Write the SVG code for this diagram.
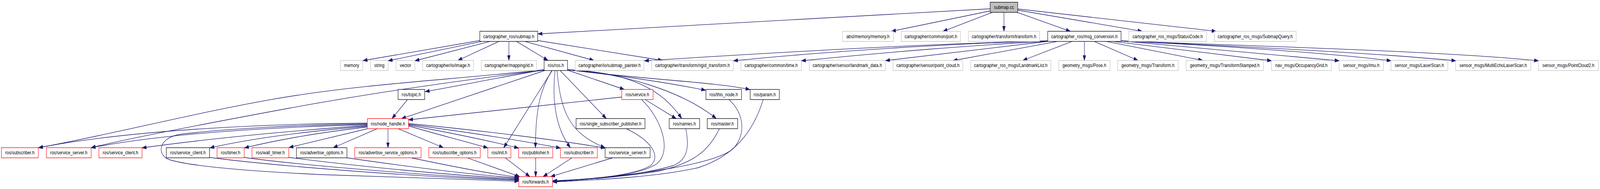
<svg xmlns="http://www.w3.org/2000/svg" width="4993" height="485" viewBox="0 0 4993 485" preserveAspectRatio="none">
<style>
:root{width:100vw;height:100vh}
rect{fill:#fff;stroke-width:1.3}
.g{stroke:#bfbfbf}
.k{stroke:#000}
.r{stroke:#ff0000}
.s{fill:#bfbfbf;stroke:#000}
text{font-family:"Liberation Sans",Arial,Helvetica,sans-serif;font-size:13px;text-anchor:middle;fill:#000}
#edges path{fill:none;stroke:#191970;stroke-width:1.3;marker-end:url(#a)}
</style>
<defs>
<marker id="a" markerUnits="userSpaceOnUse" markerWidth="14" markerHeight="10" refX="13.5" refY="5" orient="auto" viewBox="0 0 14 10">
<path d="M0,0.3 L14,5 L0,9.7 z" fill="#191970" stroke="#191970" stroke-width="0.8"/>
</marker>
</defs>
<rect x="0" y="0" width="4993" height="485" style="fill:#fff;stroke:none"/>
<g id="edges">
<path d="M3090,22.5 L1679,87"/>
<path d="M3090,28 L2782,80.3"/>
<path d="M3097,31.7 L2943,80.3"/>
<path d="M3133,31.7 L3133,80.3"/>
<path d="M3174,31.7 L3340,80.3"/>
<path d="M3176,26 L3564,80.3"/>
<path d="M3176,23 L3795,80.3"/>
<path d="M1498,104 L1133,155.5"/>
<path d="M1503,106.3 L1211.5,156"/>
<path d="M1529,106.3 L1295,156"/>
<path d="M1557,106.3 L1429,155"/>
<path d="M1588,106.3 L1588,155"/>
<path d="M1612,106.3 L1710,155"/>
<path d="M1638,106.3 L1853,155"/>
<path d="M1678,104 L2067,155"/>
<path d="M3270,105 C3000,110 2600,125 2011,156"/>
<path d="M3270,105 C3000,111 2600,130 2289,156"/>
<path d="M3271,106 C3050,115 2750,135 2501,156"/>
<path d="M3272,106 L2763.5,155.5"/>
<path d="M3300,106.3 L2974,155.5"/>
<path d="M3345,106.3 L3192,155"/>
<path d="M3384,106.3 L3384,155"/>
<path d="M3415,106.3 L3551,155"/>
<path d="M3453,106.3 L3753,155"/>
<path d="M3475,106.3 L3968,156"/>
<path d="M3498,105 L4179,156"/>
<path d="M3498,105 C3780,116 4150,136 4341,156"/>
<path d="M3498,105 C3850,118 4300,136 4543,156"/>
<path d="M3498,105 C3900,118 4500,131 4801,156"/>
<path d="M1698,179 C1550,200 1420,222 1327,235"/>
<path d="M1700,181 L1253,304.3"/>
<path d="M1698,179 C1400,205 1150,215 900,248 C650,281 350,345 120.5,379"/>
<path d="M1698,180 C1450,205 1150,240 900,278 C650,316 400,355 284.5,379"/>
<path d="M1723,181 L1572,379"/>
<path d="M1722,181 C1690,225 1671,270 1671,379"/>
<path d="M1732,181 C1722,260 1735,330 1780,379"/>
<path d="M1738,181 C1750,280 1770,340 1888,379"/>
<path d="M1748,181 L1892,304.3"/>
<path d="M1771,180 L1948,229.5"/>
<path d="M1771,179 C1990,185 2080,245 2127,304"/>
<path d="M1771,179 C1950,188 2130,235 2235,304"/>
<path d="M1771,179 C1950,195 2100,215 2202,231.5"/>
<path d="M1771,179 C2000,203 2250,212 2340,230"/>
<path d="M1146,316 C800,318 400,335 120.5,379"/>
<path d="M1146,320 C900,325 550,338 284.5,379"/>
<path d="M1146,322 C1000,330 700,350 443.5,379.5"/>
<path d="M1146,318 C950,320 700,330 560,345 C490,355 490,400 530,410 C600,428 800,440 1000,448 C1300,458 1500,462 1619,465"/>
<path d="M1146,324 C1000,334 800,352 655,379.5"/>
<path d="M1146,326 C1050,335 900,352 763,379.5"/>
<path d="M1148,330 L902,378.5"/>
<path d="M1177,330.3 L1040,379"/>
<path d="M1210.7,330.3 L1210.7,379"/>
<path d="M1243,330.3 L1383.5,379"/>
<path d="M1274.7,323 C1350,342 1450,362 1522,379.5"/>
<path d="M1274.7,321 C1400,340 1530,362 1618.3,380"/>
<path d="M1274.7,319 C1450,338 1620,360 1749,380"/>
<path d="M1274.7,317 C1500,335 1750,360 1888.3,380"/>
<path d="M1271.7,255.5 L1223.3,304.3"/>
<path d="M1940.3,249 L1275,307.5"/>
<path d="M2013.3,255.5 L2110,304.3"/>
<path d="M2002,255.5 C2060,300 2100,385 2050,420 C2000,450 1850,460 1725,465"/>
<path d="M1955,330.3 C2030,360 2065,400 2030,425 C1980,450 1850,460 1725,464"/>
<path d="M2140,330.3 C2150,370 2150,410 2100,425 C2000,450 1850,460 1725,466"/>
<path d="M2245,330.3 C2210,390 2160,420 2050,440 C1900,458 1800,462 1725,466"/>
<path d="M2275,255.5 C2320,290 2330,340 2290,380 C2240,420 2000,450 1725,466"/>
<path d="M2381.7,255.5 C2350,340 2290,400 2180,430 C2050,455 1850,462 1725,467"/>
<path d="M654,404 C850,425 1300,455 1619,462"/>
<path d="M762,404 C900,420 1300,450 1619,461"/>
<path d="M901.3,404 C1100,425 1400,450 1619,459"/>
<path d="M1082.7,405 C1250,425 1450,447 1619,457"/>
<path d="M1283,405 C1400,425 1520,445 1619,455"/>
<path d="M1458,405 L1622,453.3"/>
<path d="M1576.7,405 L1653.3,453.3"/>
<path d="M1671.7,405 L1671.7,453.3"/>
<path d="M1785,405 L1695,453.3"/>
<path d="M1911.7,405 L1718.3,453.3"/>
</g>
<g id="n_submap_cc"><rect class="s" x="3090" y="5.7" width="86" height="26"/><text x="3133" y="23">submap.cc</text></g>
<g id="n_cr_submap"><rect class="k" x="1497.3" y="80.3" width="180.7" height="26"/><text x="1587.65" y="97.6">cartographer_ros/submap.h</text></g>
<g id="n_absl"><rect class="g" x="2629" y="80.3" width="159" height="26"/><text x="2708.5" y="97.6">absl/memory/memory.h</text></g>
<g id="n_port"><rect class="g" x="2812.5" y="80.3" width="184.8" height="26"/><text x="2904.9" y="97.6">cartographer/common/port.h</text></g>
<g id="n_transform"><rect class="g" x="3022" y="80.3" width="222.3" height="26"/><text x="3133.15" y="97.6">cartographer/transform/transform.h</text></g>
<g id="n_msgconv"><rect class="k" x="3269.5" y="80.3" width="228.9" height="26"/><text x="3383.95" y="97.6">cartographer_ros/msg_conversion.h</text></g>
<g id="n_status"><rect class="g" x="3522.5" y="80.3" width="242.7" height="26"/><text x="3643.85" y="97.6">cartographer_ros_msgs/StatusCode.h</text></g>
<g id="n_query"><rect class="g" x="3789.3" y="80.3" width="255.5" height="26"/><text x="3917.05" y="97.6">cartographer_ros_msgs/SubmapQuery.h</text></g>
<g id="n_memory"><rect class="g" x="1062.3" y="155" width="69.7" height="26"/><text x="1097.15" y="172.3">memory</text></g>
<g id="n_string"><rect class="g" x="1156.3" y="155" width="55" height="26"/><text x="1183.8" y="172.3">string</text></g>
<g id="n_vector"><rect class="g" x="1236" y="155" width="58.7" height="26"/><text x="1265.35" y="172.3">vector</text></g>
<g id="n_image"><rect class="g" x="1319" y="155" width="158.7" height="26"/><text x="1398.35" y="172.3">cartographer/io/image.h</text></g>
<g id="n_id"><rect class="g" x="1502" y="155" width="172" height="26"/><text x="1588" y="172.3">cartographer/mapping/id.h</text></g>
<g id="n_ros"><rect class="k" x="1698" y="155" width="73" height="26"/><text x="1734.5" y="172.3">ros/ros.h</text></g>
<g id="n_painter"><rect class="g" x="1795" y="155" width="214.3" height="26"/><text x="1902.15" y="172.3">cartographer/io/submap_painter.h</text></g>
<g id="n_rigid"><rect class="g" x="2033.7" y="155" width="254.6" height="26"/><text x="2161" y="172.3">cartographer/transform/rigid_transform.h</text></g>
<g id="n_time"><rect class="g" x="2312.3" y="155" width="188.4" height="26"/><text x="2406.5" y="172.3">cartographer/common/time.h</text></g>
<g id="n_landmark"><rect class="g" x="2525.4" y="155" width="237.3" height="26"/><text x="2644.05" y="172.3">cartographer/sensor/landmark_data.h</text></g>
<g id="n_pointcloud"><rect class="g" x="2786.8" y="155" width="218" height="26"/><text x="2895.8" y="172.3">cartographer/sensor/point_cloud.h</text></g>
<g id="n_landmarklist"><rect class="g" x="3029" y="155" width="250.6" height="26"/><text x="3154.3" y="172.3">cartographer_ros_msgs/LandmarkList.h</text></g>
<g id="n_pose"><rect class="g" x="3303.7" y="155" width="160.4" height="26"/><text x="3383.9" y="172.3">geometry_msgs/Pose.h</text></g>
<g id="n_gtransform"><rect class="g" x="3487.7" y="155" width="189.1" height="26"/><text x="3582.25" y="172.3">geometry_msgs/Transform.h</text></g>
<g id="n_gtstamped"><rect class="g" x="3701.4" y="155" width="241.6" height="26"/><text x="3822.2" y="172.3">geometry_msgs/TransformStamped.h</text></g>
<g id="n_occ"><rect class="g" x="3967.7" y="155" width="186.9" height="26"/><text x="4061.15" y="172.3">nav_msgs/OccupancyGrid.h</text></g>
<g id="n_imu"><rect class="g" x="4179" y="155" width="138" height="26"/><text x="4248" y="172.3">sensor_msgs/Imu.h</text></g>
<g id="n_laser"><rect class="g" x="4340.5" y="155" width="177.5" height="26"/><text x="4429.25" y="172.3">sensor_msgs/LaserScan.h</text></g>
<g id="n_multi"><rect class="g" x="4542.5" y="155" width="234.5" height="26"/><text x="4659.75" y="172.3">sensor_msgs/MultiEchoLaserScan.h</text></g>
<g id="n_pc2"><rect class="g" x="4801" y="155" width="187" height="26"/><text x="4894.5" y="172.3">sensor_msgs/PointCloud2.h</text></g>
<g id="n_topic"><rect class="k" x="1242.3" y="229.5" width="83" height="26"/><text x="1283.8" y="246.8">ros/topic.h</text></g>
<g id="n_service"><rect class="r" x="1940.3" y="229.5" width="97.7" height="26"/><text x="1989.15" y="246.8">ros/service.h</text></g>
<g id="n_thisnode"><rect class="k" x="2203" y="229.5" width="111" height="26"/><text x="2258.5" y="246.8">ros/this_node.h</text></g>
<g id="n_param"><rect class="k" x="2341" y="229.5" width="91" height="26"/><text x="2386.5" y="246.8">ros/param.h</text></g>
<g id="n_nodehandle"><rect class="r" x="1146.3" y="304.3" width="128.4" height="26"/><text x="1210.5" y="321.6">ros/node_handle.h</text></g>
<g id="n_ssp"><rect class="k" x="1797.7" y="304.3" width="215" height="26"/><text x="1905.2" y="321.6">ros/single_subscriber_publisher.h</text></g>
<g id="n_names"><rect class="k" x="2088.3" y="304.3" width="95" height="26"/><text x="2135.8" y="321.6">ros/names.h</text></g>
<g id="n_master"><rect class="k" x="2207" y="304.3" width="95" height="26"/><text x="2254.5" y="321.6">ros/master.h</text></g>
<g id="n_subL"><rect class="r" x="4.3" y="379" width="115.2" height="26"/><text x="61.9" y="396.3">ros/subscriber.h</text></g>
<g id="n_ssL"><rect class="r" x="144.6" y="379" width="139.9" height="26"/><text x="214.55" y="396.3">ros/service_server.h</text></g>
<g id="n_scR"><rect class="r" x="308.6" y="379" width="134.7" height="26"/><text x="375.95" y="396.3">ros/service_client.h</text></g>
<g id="n_scB"><rect class="k" x="519" y="379" width="135" height="26"/><text x="586.5" y="396.3">ros/service_client.h</text></g>
<g id="n_timer"><rect class="r" x="677.3" y="379" width="84.7" height="26"/><text x="719.65" y="396.3">ros/timer.h</text></g>
<g id="n_wall"><rect class="r" x="786.3" y="379" width="115" height="26"/><text x="843.8" y="396.3">ros/wall_timer.h</text></g>
<g id="n_adv"><rect class="k" x="925" y="379" width="157.7" height="26"/><text x="1003.85" y="396.3">ros/advertise_options.h</text></g>
<g id="n_advsrv"><rect class="r" x="1107" y="379" width="207" height="26"/><text x="1210.5" y="396.3">ros/advertise_service_options.h</text></g>
<g id="n_subopt"><rect class="r" x="1338.3" y="379" width="160.4" height="26"/><text x="1418.5" y="396.3">ros/subscribe_options.h</text></g>
<g id="n_init"><rect class="r" x="1522.3" y="379" width="72" height="26"/><text x="1558.3" y="396.3">ros/init.h</text></g>
<g id="n_pub"><rect class="r" x="1618.3" y="379" width="106.7" height="26"/><text x="1671.65" y="396.3">ros/publisher.h</text></g>
<g id="n_subR"><rect class="r" x="1749" y="379" width="115" height="26"/><text x="1806.5" y="396.3">ros/subscriber.h</text></g>
<g id="n_ssB"><rect class="k" x="1888.3" y="379" width="140.4" height="26"/><text x="1958.5" y="396.3">ros/service_server.h</text></g>
<g id="n_forwards"><rect class="r" x="1619" y="453.3" width="105" height="26"/><text x="1671.5" y="470.6">ros/forwards.h</text></g>
</svg>
